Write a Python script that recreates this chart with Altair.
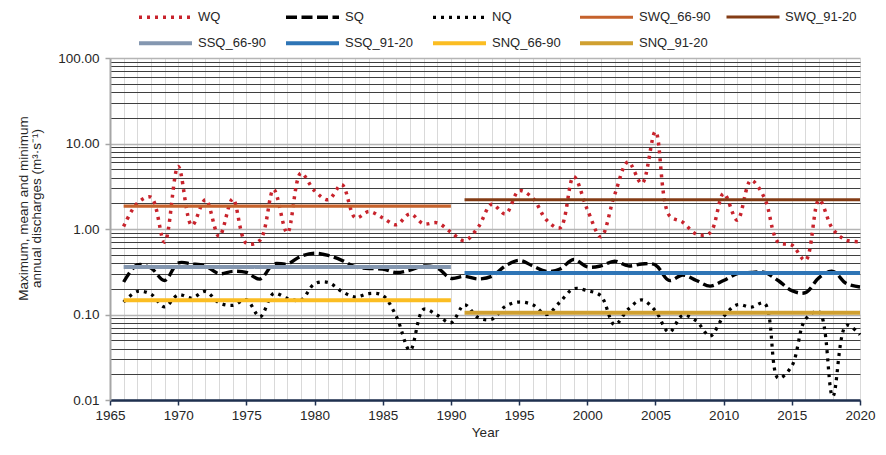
import altair as alt
import pandas as pd

years = list(range(1966, 2021))

wq = [1.07, 2.0, 2.36, 0.70, 5.4, 1.1, 2.2, 0.82, 2.25, 0.68,
      0.74, 2.9, 0.9, 4.5, 2.8, 2.2, 3.3, 1.35, 1.6, 1.35,
      1.12, 1.5, 1.15, 1.18, 0.92, 0.73, 1.05, 1.95, 1.5, 2.8,
      2.3, 1.28, 1.03, 4.1, 1.7, 0.81, 2.5, 6.1, 3.4, 13.8,
      1.45, 1.2, 0.87, 0.9, 2.6, 1.27, 3.7, 2.3, 0.7, 0.65,
      0.43, 2.2, 1.0, 0.74, 0.71]

sq = [0.24, 0.38, 0.35, 0.25, 0.40, 0.39, 0.37, 0.30, 0.32, 0.31,
      0.26, 0.39, 0.39, 0.48, 0.52, 0.49, 0.43, 0.36, 0.345, 0.34,
      0.31, 0.33, 0.37, 0.35, 0.265, 0.28, 0.26, 0.28, 0.37, 0.43,
      0.37, 0.32, 0.34, 0.44, 0.36, 0.37, 0.42, 0.37, 0.39, 0.38,
      0.25, 0.29, 0.25, 0.215, 0.25, 0.30, 0.31, 0.31, 0.25, 0.19,
      0.18, 0.27, 0.32, 0.23, 0.21]

nq = [0.14, 0.186, 0.173, 0.123, 0.170, 0.156, 0.186, 0.137, 0.128, 0.149,
      0.094, 0.176, 0.155, 0.147, 0.229, 0.237, 0.186, 0.16, 0.176, 0.167,
      0.095, 0.038, 0.115, 0.098, 0.080, 0.13, 0.092, 0.088, 0.125, 0.14,
      0.13, 0.10, 0.14, 0.2, 0.19, 0.165, 0.076, 0.115, 0.148, 0.11,
      0.062, 0.098, 0.084, 0.056, 0.095, 0.13, 0.122, 0.135, 0.018, 0.025,
      0.088, 0.108, 0.011, 0.075, 0.058]

periods = ["66-90", "91-20"]
period_start = [1966, 1991]
period_end = [1990, 2020]
swq_means = [1.85, 2.2]
ssq_means = [0.36, 0.305]
snq_means = [0.147, 0.105]

# legend row 1
row1_series = ["WQ", "SQ", "NQ", "SWQ_66-90", "SWQ_91-20"]
row1_colors = ["#c8232c", "#000000", "#000000", "#c5622c", "#843c15"]
row1_dash = [[3, 5], [11, 4.5], [3, 5], [1, 0], [1, 0]]
row1_width = [3.5, 3, 3.5, 4, 4]
# legend row 2
row2_series = ["SSQ_66-90", "SSQ_91-20", "SNQ_66-90", "SNQ_91-20"]
row2_colors = ["#8497b0", "#2e75b6", "#fbbd22", "#d0a030"]
row2_dash = [[1, 0], [1, 0], [1, 0], [1, 0]]
row2_width = [4, 4, 4, 4]

x_values = list(range(1965, 2021))
y_values = [round(k * 10 ** e, 6) for e in range(-2, 2) for k in range(1, 10)] + [100]

rows = []
for name, vals in [("WQ", wq), ("SQ", sq), ("NQ", nq)]:
    for yr, v in zip(years, vals):
        rows.append({"year": yr, "value": v, "series": name})
for prefix, means in [("SWQ", swq_means), ("SSQ", ssq_means), ("SNQ", snq_means)]:
    for p, s, e, m in zip(periods, period_start, period_end, means):
        rows.append({"year": s, "value": m, "series": f"{prefix}_{p}"})
        rows.append({"year": e, "value": m, "series": f"{prefix}_{p}"})
df = pd.DataFrame(rows)
df["row"] = df["series"].apply(lambda s: 1 if s in row1_series else 2)

FONT = "Liberation Sans"
decade = "abs(log(datum.value)/LN10 - round(log(datum.value)/LN10)) < 0.001"


def make_legend(y, pad):
    return alt.Legend(
        orient="none", legendX=27, legendY=y, direction="horizontal", gridAlign="all",
        title=None, symbolType="stroke", symbolSize=2809, labelFontSize=13,
        labelFont=FONT, labelColor="#262626", columnPadding=pad,
        labelOffset=4, padding=0,
    )


base = alt.Chart(df).mark_line(interpolate="catmull-rom", strokeCap="butt").encode(
    x=alt.X("year:Q",
            scale=alt.Scale(domain=[1965, 2020], nice=False, zero=False),
            axis=alt.Axis(values=x_values, format="d",
                          labelExpr="datum.value % 5 == 0 ? datum.label : ''",
                          title="Year", grid=True, gridColor="#d9d9d9", gridWidth=1,
                          tickColor={"condition": {"test": "datum.value % 5 == 0", "value": "#1f3050"},
                                     "value": "transparent"},
                          tickSize=5, tickWidth=1.5, domainColor="#1f3050", domainWidth=2.5,
                          labelFontSize=13.5, labelColor="#262626", labelPadding=3,
                          labelFlush=False, labelFont=FONT,
                          titleFontSize=13.5, titleFontWeight="normal", titleFont=FONT,
                          titleColor="#262626", titlePadding=4)),
    y=alt.Y("value:Q",
            scale=alt.Scale(type="log", domain=[0.01, 100], nice=False),
            axis=alt.Axis(values=y_values, format=".2f",
                          labelExpr=f"{decade} ? datum.label : ''",
                          title=["Maximum, mean and minimum", "annual discharges (m³·s⁻¹)"],
                          grid=True,
                          gridColor={"condition": {"test": decade, "value": "#b4b4b4"},
                                     "value": "#3f3f3f"},
                          gridWidth={"condition": {"test": decade, "value": 1.5}, "value": 1},
                          tickColor={"condition": {"test": decade, "value": "#a6a6a6"},
                                     "value": "transparent"},
                          tickSize=5, tickWidth=1.5, domainColor="#a6a6a6", domainWidth=2,
                          labelFontSize=13.5, labelColor="#262626", labelPadding=6,
                          labelFont=FONT, labelFlush=False,
                          titleFontSize=13.5, titleFontWeight="normal", titleFont=FONT,
                          titleColor="#262626", titlePadding=14, titleLineHeight=13,
                          titleY=150)),
)

leg1 = make_legend(-69.5, 9)
layer1 = base.transform_filter("datum.row == 1").encode(
    color=alt.Color("series:N", scale=alt.Scale(domain=row1_series, range=row1_colors), legend=leg1),
    strokeDash=alt.StrokeDash("series:N", scale=alt.Scale(domain=row1_series, range=row1_dash), legend=leg1),
    strokeWidth=alt.StrokeWidth("series:N", scale=alt.Scale(domain=row1_series, range=row1_width), legend=leg1),
)

leg2 = make_legend(-43.5, 11)
layer2 = base.transform_filter("datum.row == 2").encode(
    color=alt.Color("series:N", scale=alt.Scale(domain=row2_series, range=row2_colors), legend=leg2),
    strokeDash=alt.StrokeDash("series:N", scale=alt.Scale(domain=row2_series, range=row2_dash), legend=leg2),
    strokeWidth=alt.StrokeWidth("series:N", scale=alt.Scale(domain=row2_series, range=row2_width), legend=leg2),
)

chart = alt.layer(layer1, layer2).resolve_scale(
    color="independent", strokeDash="independent", strokeWidth="independent"
).resolve_legend(
    color="independent", strokeDash="independent", strokeWidth="independent"
).properties(
    width=750, height=342,
    autosize=alt.AutoSizeParams(type="none"),
    padding={"left": 102, "top": 50, "right": 18, "bottom": 43},
).configure_view(stroke=None)

chart.save("out.html", embed_options={"renderer": "svg", "actions": False})
